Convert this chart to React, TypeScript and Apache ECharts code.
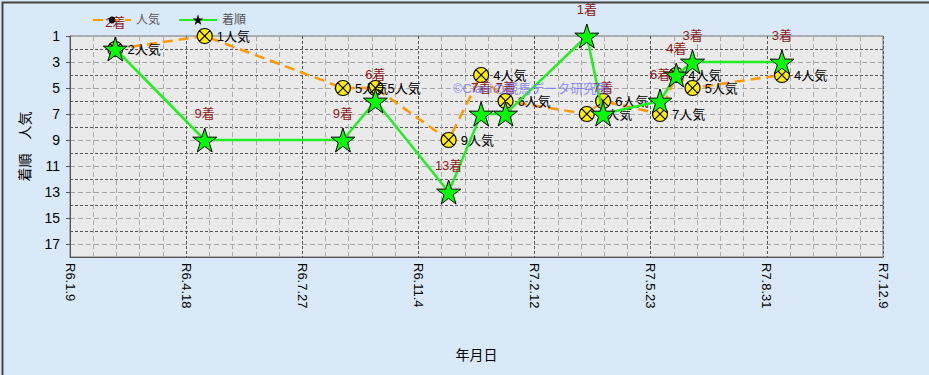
import React, { useEffect, useRef } from 'react';
import * as echarts from 'echarts';

// ---- data ----
const BASE_DATE = '2024-01-09'; // R6.1.9 (x axis start)
const raceDates = [
  '2024-02-17', '2024-05-04', '2024-08-31', '2024-09-28', '2024-11-30',
  '2024-12-28', '2025-01-18', '2025-03-29', '2025-04-12', '2025-05-31',
  '2025-06-14', '2025-06-28', '2025-09-13',
];
const finishOrder = [2, 9, 9, 6, 13, 7, 7, 1, 7, 6, 4, 3, 3];
const popularity = [2, 1, 5, 5, 9, 4, 6, 7, 6, 7, 4, 5, 4];
const legendNames = ['人気', '着順'];
const xAxisName = '年月日';
const yAxisName = '着順　人気';
const watermark = '©Cianiの競馬データ研究所';

const DAY = 86400000;
const dayIndex = (s: string) =>
  Math.round((Date.parse(s + 'T00:00:00Z') - Date.parse(BASE_DATE + 'T00:00:00Z')) / DAY);
const reiwaLabel = (v: number) => {
  const d = new Date(Date.parse(BASE_DATE + 'T00:00:00Z') + v * DAY);
  return `R${d.getUTCFullYear() - 2018}.${d.getUTCMonth() + 1}.${d.getUTCDate()}`;
};

const STAR =
  'path://M10,0 L12.245,6.91 L19.51,6.91 L13.633,11.18 L15.88,18.09 L10,13.82 L4.12,18.09 L6.367,11.18 L0.49,6.91 L7.755,6.91 Z';
const XCIRCLE =
  'path://M0,10 A10,10 0 1,1 20,10 A10,10 0 1,1 0,10 Z M2.93,2.93 L17.07,17.07 M17.07,2.93 L2.93,17.07';

const FONT = "'Liberation Sans', 'Noto Sans CJK JP', sans-serif";

export default function App() {
  const ref = useRef<HTMLDivElement>(null);
  useEffect(() => {
    document.body.style.margin = '0';
    const chart = echarts.init(ref.current!, null, { renderer: 'svg' });
    const popData = raceDates.map((d, i) => [dayIndex(d), popularity[i]]);
    const finData = raceDates.map((d, i) => [dayIndex(d), finishOrder[i]]);
    chart.setOption({
      animation: false,
      backgroundColor: '#DAE9F8',
      textStyle: { fontFamily: FONT },
      legend: {
        left: 87,
        top: 9,
        itemWidth: 38,
        itemHeight: 6,
        itemGap: 18,
        textStyle: { fontSize: 12, color: '#555', fontFamily: FONT },
        data: legendNames,
      },
      grid: {
        left: 70,
        right: 46,
        top: 36,
        bottom: 118,
        show: true,
        backgroundColor: '#EAEAEA',
        borderColor: '#777',
        borderWidth: 1,
      },
      xAxis: {
        type: 'value',
        min: 0,
        max: 700,
        interval: 100,
        name: xAxisName,
        nameLocation: 'middle',
        nameGap: 91,
        nameTextStyle: { fontSize: 14, color: '#000', fontFamily: FONT },
        axisLine: { show: true, lineStyle: { color: '#555', width: 1 } },
        axisTick: { show: false },
        axisLabel: {
          rotate: -90,
          margin: 6,
          fontSize: 13,
          color: '#000',
          fontFamily: FONT,
          formatter: (v: number) => reiwaLabel(v),
        },
        splitLine: { show: true, lineStyle: { color: '#555', type: [3, 2], width: 1 } },
        minorTick: { show: false, splitNumber: 5 },
        minorSplitLine: { show: true, lineStyle: { color: '#A8A8A8', type: [5, 3], width: 1 } },
      },
      yAxis: [
        {
          type: 'value',
          inverse: true,
          min: 1,
          max: 18,
          interval: 2,
          name: yAxisName,
          nameLocation: 'middle',
          nameGap: 38,
          nameTextStyle: { fontSize: 14, color: '#000', fontFamily: FONT },
          axisLine: { show: true, lineStyle: { color: '#555' } },
          axisTick: { show: true, length: 4, lineStyle: { color: '#555' } },
          axisLabel: { fontSize: 14, color: '#000', margin: 10, showMaxLabel: false, fontFamily: FONT },
          splitLine: { show: true, lineStyle: { color: '#A8A8A8', type: [5, 3], width: 1 } },
        },
        {
          type: 'value',
          inverse: true,
          min: 1,
          max: 18,
          interval: 1,
          position: 'right',
          axisLine: { show: false },
          axisTick: { show: false },
          axisLabel: { show: false },
          splitLine: {
            show: true,
            lineStyle: { color: ['rgba(0,0,0,0)', '#555'], type: [3, 2], width: 1 },
          },
        },
      ],
      graphic: [
        {
          type: 'text',
          left: 453,
          top: 82,
          z: 100,
          silent: true,
          style: {
            text: watermark,
            fill: 'rgba(120,120,255,0.85)',
            font: `13px ${FONT}`,
          },
        },
        {
          type: 'rect',
          left: 0,
          top: 0,
          z: 100,
          silent: true,
          shape: { x: 0, y: 0, width: 928, height: 374 },
          style: { fill: 'none', stroke: '#444', lineWidth: 2 },
        },
      ],
      series: [
        {
          name: legendNames[0],
          type: 'line',
          data: popData,
          z: 2,
          symbol: XCIRCLE,
          symbolSize: 15,
          lineStyle: { color: '#FF9900', width: 2.5, type: [10, 6] },
          itemStyle: { color: '#FFEE00', borderColor: '#000', borderWidth: 1.2 },
          label: {
            show: true,
            position: 'right',
            distance: 4,
            fontSize: 13,
            color: '#000',
            fontFamily: FONT,
            formatter: (p: any) => `${p.value[1]}人気`,
          },
          emphasis: { disabled: true },
        },
        {
          name: legendNames[1],
          type: 'line',
          data: finData,
          z: 3,
          symbol: STAR,
          symbolSize: 24,
          lineStyle: { color: '#22EE22', width: 2.5 },
          itemStyle: { color: '#00FF00', borderColor: '#000', borderWidth: 1 },
          label: {
            show: true,
            position: 'top',
            distance: 8,
            fontSize: 13,
            color: '#8B1A1A',
            fontFamily: FONT,
            formatter: (p: any) => `${p.value[1]}着`,
          },
          emphasis: { disabled: true },
        },
      ],
    });
    return () => chart.dispose();
  }, []);
  return (
    <div
      ref={ref}
      style={{ position: 'fixed', left: 0, top: 0, width: 929, height: 375 }}
    />
  );
}
